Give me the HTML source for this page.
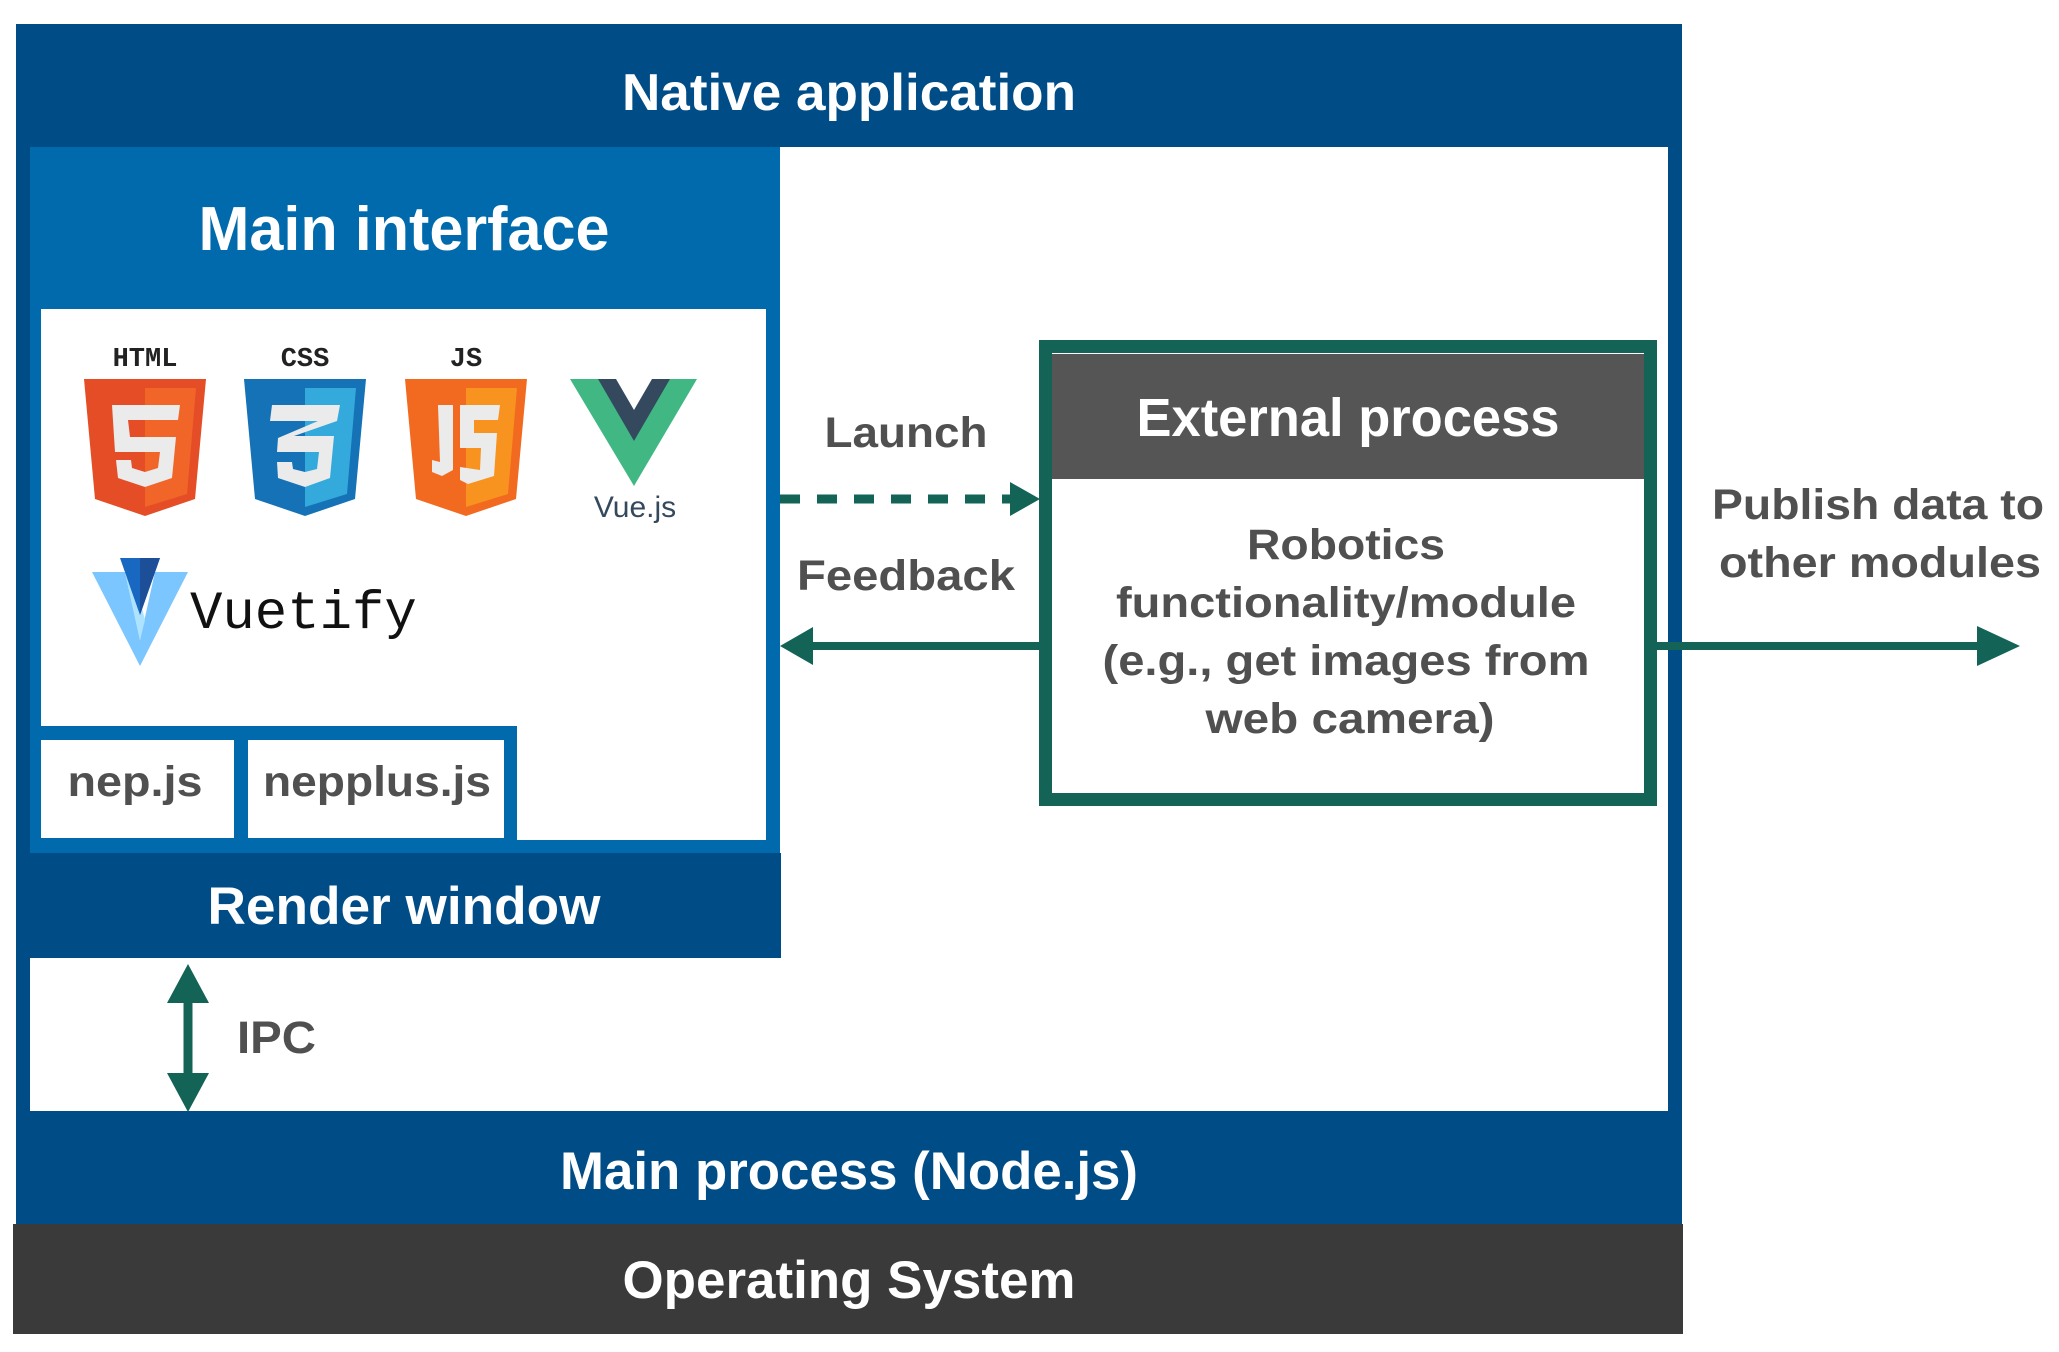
<!DOCTYPE html>
<html><head><meta charset="utf-8"><style>
html,body{margin:0;padding:0;background:#fff;width:2059px;height:1352px;overflow:hidden}
svg{display:block}
text{font-family:"Liberation Sans",Arial,sans-serif;font-weight:bold}
</style></head><body>
<svg width="2059" height="1352" viewBox="0 0 2059 1352" xmlns="http://www.w3.org/2000/svg">
<!-- outer -->
<rect x="16" y="24" width="1666" height="1202" fill="#004c86"/>
<rect x="30" y="147" width="1638" height="964" fill="#fff"/>
<rect x="13" y="1224" width="1670" height="110" fill="#3a3a3a"/>
<text x="849" y="110" font-size="52" fill="#fff" text-anchor="middle" textLength="454" lengthAdjust="spacingAndGlyphs">Native application</text>
<text x="849" y="1189" font-size="53" fill="#fff" text-anchor="middle" textLength="578" lengthAdjust="spacingAndGlyphs">Main process (Node.js)</text>
<text x="849" y="1298" font-size="53" fill="#fff" text-anchor="middle" textLength="453" lengthAdjust="spacingAndGlyphs">Operating System</text>

<!-- main interface -->
<rect x="30" y="147" width="750" height="706" fill="#006aad"/>
<rect x="41" y="309" width="725" height="531" fill="#fff"/>
<text x="404" y="250" font-size="62" fill="#fff" text-anchor="middle" textLength="411" lengthAdjust="spacingAndGlyphs">Main interface</text>
<rect x="30" y="726" width="487" height="114" fill="#006aad"/>
<rect x="41" y="740" width="193" height="98" fill="#fff"/>
<rect x="248" y="740" width="256" height="98" fill="#fff"/>
<text x="135" y="796" font-size="43" fill="#505050" text-anchor="middle" textLength="135" lengthAdjust="spacingAndGlyphs">nep.js</text>
<text x="377" y="796" font-size="43" fill="#505050" text-anchor="middle" textLength="228" lengthAdjust="spacingAndGlyphs">nepplus.js</text>
<rect x="30" y="853" width="751" height="105" fill="#004c86"/>
<text x="404" y="924" font-size="53" fill="#fff" text-anchor="middle" textLength="393" lengthAdjust="spacingAndGlyphs">Render window</text>

<!-- icons -->
<text x="145" y="366" font-size="27" fill="#222" text-anchor="middle" style="font-family:'Liberation Mono',monospace">HTML</text>
<text x="305" y="366" font-size="27" fill="#222" text-anchor="middle" style="font-family:'Liberation Mono',monospace">CSS</text>
<text x="466" y="366" font-size="27" fill="#222" text-anchor="middle" style="font-family:'Liberation Mono',monospace">JS</text>
<path d="M84 379 L206 379 L195 499 L145 516 L95 499 Z" fill="#e44d26"/>
<path d="M145 388 L196 388 L187 494 L145 507 Z" fill="#f16529"/>
<path d="M112 405 L180 405 L178 420 L128 420 L130 437 L176 437 L172 478 L145 487 L118 478 L116 460 L131 460 L132 468 L145 472 L158 468 L160 452 L115 452 Z" fill="#ebebeb"/>
<path d="M244 379 L366 379 L355 499 L305 516 L255 499 Z" fill="#1572b6"/>
<path d="M305 388 L356 388 L347 494 L305 507 Z" fill="#33a9dc"/>
<path d="M272 405 L340 405 L337 421 L294 436 L334 436 L330 478 L305 487 L278 478 L277 462 L292 462 L293 469 L305 472 L317 469 L319 452 L277 452 L278 438 L318 421 L270 421 Z" fill="#ebebeb"/>
<path d="M405 379 L527 379 L516 499 L466 516 L416 499 Z" fill="#f26a1f"/>
<path d="M466 388 L517 388 L508 494 L466 507 Z" fill="#f7931e"/>
<path d="M438 405 L453 405 L453 470 L442 476 L432 472 L432 460 L440 462 L438 405 Z" fill="#ebebeb"/>
<path d="M460 405 L500 405 L498 420 L474 420 L474 433 L497 433 L494 476 L468 484 L460 480 L460 467 L480 470 L481 448 L460 448 Z" fill="#ebebeb"/>
<path d="M570 379 L606 379 L634 427 L662 379 L697 379 L634 486 Z" fill="#41b883"/>
<path d="M598 379 L616 379 L634 410 L652 379 L670 379 L634 441 Z" fill="#34495e"/>
<text x="635" y="517" font-size="30" fill="#34495e" text-anchor="middle" style="font-weight:normal">Vue.js</text>
<path d="M92 572 L125 572 L140 640 L155 572 L188 572 L140 666 Z" fill="#7bc6ff"/>
<path d="M125 572 L140 640 L145 620 L140 600 Z" fill="#aee3ff"/>
<path d="M120 558 L160 558 L140 615 Z" fill="#1867c0"/>
<path d="M140 558 L160 558 L140 615 Z" fill="#1c4f97"/>
<text x="190" y="628" font-size="54" fill="#111" style="font-family:'Liberation Mono',monospace;font-weight:normal">Vuetify</text>

<!-- launch / feedback -->
<text x="906" y="447" font-size="43" fill="#505050" text-anchor="middle" textLength="163" lengthAdjust="spacingAndGlyphs">Launch</text>
<line x1="780" y1="499" x2="1012" y2="499" stroke="#136357" stroke-width="9" stroke-dasharray="20 17"/>
<path d="M1040 499 L1010 482 L1010 516 Z" fill="#136357"/>
<text x="906" y="590" font-size="43" fill="#505050" text-anchor="middle" textLength="218" lengthAdjust="spacingAndGlyphs">Feedback</text>
<line x1="808" y1="646" x2="1040" y2="646" stroke="#136357" stroke-width="8"/>
<path d="M780 646 L813 627 L813 665 Z" fill="#136357"/>

<!-- external -->
<rect x="1045.5" y="346.5" width="605" height="453" fill="#fff" stroke="#136357" stroke-width="13"/>
<rect x="1052" y="354" width="592" height="125" fill="#555"/>
<text x="1348" y="436" font-size="54" fill="#fff" text-anchor="middle" textLength="423" lengthAdjust="spacingAndGlyphs">External process</text>
<g font-size="43" fill="#505050" text-anchor="middle">
<text x="1346" y="559" textLength="198" lengthAdjust="spacingAndGlyphs">Robotics</text>
<text x="1346" y="617" textLength="460" lengthAdjust="spacingAndGlyphs">functionality/module</text>
<text x="1346" y="675" textLength="487" lengthAdjust="spacingAndGlyphs">(e.g., get images from</text>
<text x="1350" y="733" textLength="289" lengthAdjust="spacingAndGlyphs">web camera)</text>
</g>
<line x1="1657" y1="646" x2="1985" y2="646" stroke="#136357" stroke-width="8"/>
<path d="M2020 646 L1977 626 L1977 666 Z" fill="#136357"/>
<text x="1878" y="519" font-size="43" fill="#505050" text-anchor="middle" textLength="332" lengthAdjust="spacingAndGlyphs">Publish data to</text>
<text x="1880" y="577" font-size="43" fill="#505050" text-anchor="middle" textLength="322" lengthAdjust="spacingAndGlyphs">other modules</text>

<!-- IPC -->
<line x1="188" y1="990" x2="188" y2="1088" stroke="#136357" stroke-width="9"/>
<path d="M188 964 L167 1003 L209 1003 Z" fill="#136357"/>
<path d="M188 1112 L167 1073 L209 1073 Z" fill="#136357"/>
<text x="237" y="1053" font-size="45" fill="#505050" textLength="79" lengthAdjust="spacingAndGlyphs">IPC</text>
</svg>
</body></html>
